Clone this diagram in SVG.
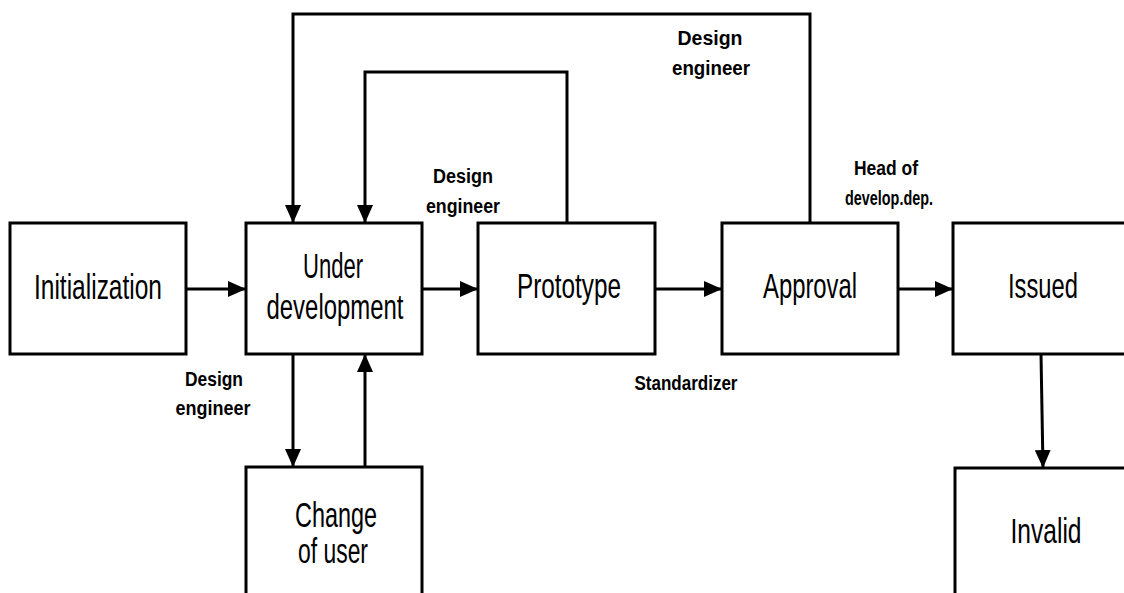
<svg xmlns="http://www.w3.org/2000/svg" width="1124" height="593" viewBox="0 0 1124 593">
<style>
.box{fill:#fff;stroke:#000;stroke-width:3}
.t{font-family:"Liberation Sans",Arial,sans-serif;font-size:35px;text-anchor:middle;fill:#000}
.l{font-family:"Liberation Sans",Arial,sans-serif;font-size:20px;font-weight:bold;text-anchor:middle;fill:#000}
.c{fill:none;stroke:#000;stroke-width:3;marker-end:url(#ah)}
</style>
<defs>
<marker id="ah" markerWidth="18" markerHeight="16" refX="18" refY="8" orient="auto" markerUnits="userSpaceOnUse">
<path d="M0,0 L18,8 L0,16 Z" fill="#000"/>
</marker>
</defs>
<rect width="1124" height="593" fill="#fff"/>
<g id="connectors">
<path class="c" d="M186,289 H246"/>
<path class="c" d="M422,289 H478"/>
<path class="c" d="M655,289 H722"/>
<path class="c" d="M898,289 H953"/>
<path class="c" d="M810,223 V14 H293 V223"/>
<path class="c" d="M567,223 V72 H365 V223"/>
<path class="c" d="M293,354 V467"/>
<path class="c" d="M365,467 V354"/>
<path class="c" d="M1041,354 L1043,468"/>
</g>
<g id="initialization">
<rect class="box" x="10" y="223" width="176" height="131"/>
<text class="t" x="98" y="299" textLength="128" lengthAdjust="spacingAndGlyphs">Initialization</text>
</g>
<g id="under-development">
<rect class="box" x="246" y="223" width="176" height="131"/>
<text class="t" x="333" y="278" textLength="60" lengthAdjust="spacingAndGlyphs">Under</text>
<text class="t" x="335" y="319" textLength="137" lengthAdjust="spacingAndGlyphs">development</text>
</g>
<g id="prototype">
<rect class="box" x="478" y="223" width="177" height="131"/>
<text class="t" x="569" y="298" textLength="104" lengthAdjust="spacingAndGlyphs">Prototype</text>
</g>
<g id="approval">
<rect class="box" x="722" y="223" width="176" height="131"/>
<text class="t" x="810" y="298" textLength="94" lengthAdjust="spacingAndGlyphs">Approval</text>
</g>
<g id="issued">
<rect class="box" x="953" y="223" width="180" height="131"/>
<text class="t" x="1043" y="298" textLength="70" lengthAdjust="spacingAndGlyphs">Issued</text>
</g>
<g id="invalid">
<rect class="box" x="955" y="468" width="180" height="140"/>
<text class="t" x="1046" y="543" textLength="71" lengthAdjust="spacingAndGlyphs">Invalid</text>
</g>
<g id="change-of-user">
<rect class="box" x="246" y="467" width="176" height="140"/>
<text class="t" x="336" y="527" textLength="82" lengthAdjust="spacingAndGlyphs">Change</text>
<text class="t" x="333" y="563" textLength="70" lengthAdjust="spacingAndGlyphs">of user</text>
</g>
<g id="labels">
<text class="l" x="463" y="183" textLength="60" lengthAdjust="spacingAndGlyphs">Design</text>
<text class="l" x="463" y="213" textLength="74" lengthAdjust="spacingAndGlyphs">engineer</text>
<text class="l" x="710" y="45" textLength="65" lengthAdjust="spacingAndGlyphs">Design</text>
<text class="l" x="711" y="75" textLength="78" lengthAdjust="spacingAndGlyphs">engineer</text>
<text class="l" x="214" y="386" textLength="58" lengthAdjust="spacingAndGlyphs">Design</text>
<text class="l" x="213" y="415" textLength="75" lengthAdjust="spacingAndGlyphs">engineer</text>
<text class="l" x="686" y="390" textLength="103" lengthAdjust="spacingAndGlyphs">Standardizer</text>
<text class="l" x="886" y="175" textLength="64" lengthAdjust="spacingAndGlyphs">Head of</text>
<text class="l" x="889" y="205" textLength="88" lengthAdjust="spacingAndGlyphs">develop.dep.</text>
</g>
</svg>
